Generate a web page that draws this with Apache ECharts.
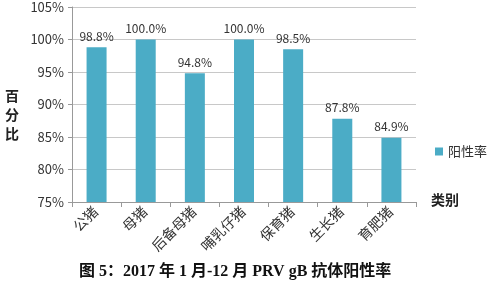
<!DOCTYPE html>
<html><head><meta charset="utf-8">
<script src="https://cdn.jsdelivr.net/npm/echarts@6/dist/echarts.min.js"></script>
<style>html,body{margin:0;padding:0;background:#fff}#c{width:500px;height:291px}</style>
</head><body><div id="c"></div>
<script>
var categories = ['公猪','母猪','后备母猪','哺乳仔猪','保育猪','生长猪','育肥猪'];
var values = [98.8, 100.0, 94.8, 100.0, 98.5, 87.8, 84.9];
var seriesName = '阳性率';
var yTicks = [75, 80, 85, 90, 95, 100, 105];
var titleText = '图 5：2017 年 1 月-12 月 PRV gB 抗体阳性率';

var chart = echarts.init(document.getElementById('c'));
chart.setOption({
  animation: false,
  textStyle: {fontFamily: 'Noto Sans CJK SC'},
  grid: {left: 72, right: 84, top: 7, bottom: 89},
  legend: {
    data: [seriesName], right: 8, top: 140, orient: 'vertical',
    itemWidth: 8, itemHeight: 8, icon: 'rect',
    textStyle: {fontSize: 13, color: '#333'}
  },
  graphic: [
    {type: 'text', left: 5, top: 86, style: {text: '百\n分\n比', font: 'bold 14px "Noto Sans CJK SC"', fill: '#222', lineHeight: 19}},
    {type: 'text', left: 431, top: 193, style: {text: '类别', font: 'bold 14px "Noto Sans CJK SC"', fill: '#222'}},
    {type: 'text', left: 79, top: 264, style: {text: titleText, font: 'bold 16px "Liberation Serif", "Noto Sans CJK SC"', fill: '#111'}}
  ],
  xAxis: {
    type: 'category', data: categories,
    axisLine: {lineStyle: {color: '#999'}},
    axisTick: {show: true, length: 5, lineStyle: {color: '#999'}},
    axisLabel: {rotate: 45, fontSize: 14, color: '#333', margin: 8, fontFamily: '"Liberation Serif", "Noto Sans CJK SC"'}
  },
  yAxis: {
    type: 'value', min: 75, max: 105, interval: 5,
    axisLine: {show: true, lineStyle: {color: '#999'}},
    axisTick: {show: true, length: 4, lineStyle: {color: '#999'}},
    splitLine: {lineStyle: {color: '#c8c8c8'}},
    axisLabel: {fontSize: 13, color: '#333', margin: 8, formatter: function(v){return v + '%';}}
  },
  series: [{
    name: seriesName, type: 'bar', data: values, barWidth: 20,
    itemStyle: {color: '#4BACC6'},
    label: {show: true, position: 'top', fontSize: 12, color: '#333', distance: 5,
      formatter: function(p){return p.value.toFixed(1) + '%';}}
  }]
});
</script></body></html>
